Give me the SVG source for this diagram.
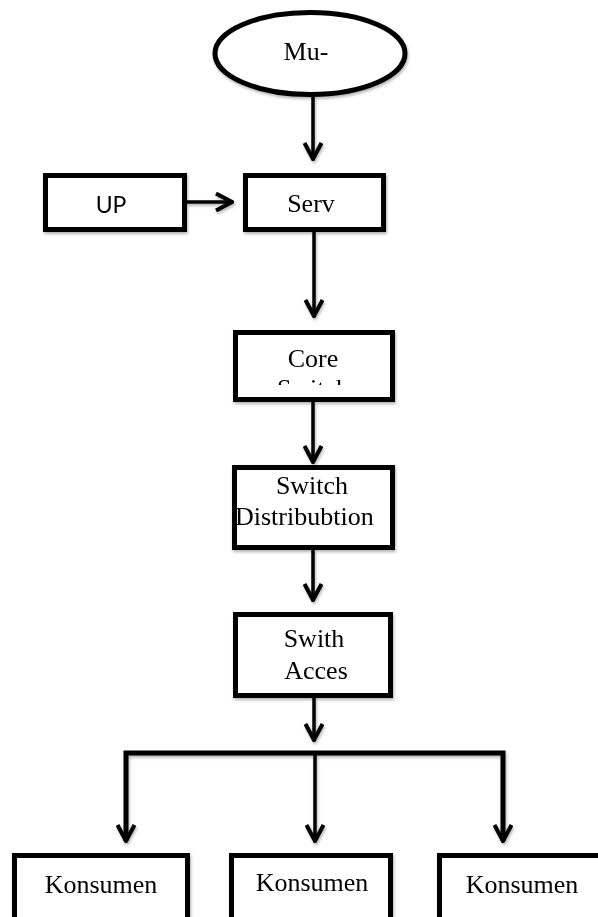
<svg xmlns="http://www.w3.org/2000/svg" width="598" height="917" viewBox="0 0 598 917">
<style>
.box{fill:#fff;stroke:#000;stroke-width:5}
.t{font-family:"Liberation Serif","Times New Roman",serif;font-size:26px;fill:#000}
.s{font-family:Lato,"Open Sans","Liberation Sans",sans-serif;font-size:23px;fill:#000}
.c{fill:none;stroke:#000;stroke-width:3.5}
.bar{fill:none;stroke:#000;stroke-width:5}
</style>
<defs>
<filter id="sh" x="-10%" y="-10%" width="130%" height="140%">
<feDropShadow dx="1" dy="2" stdDeviation="1.5" flood-color="#000" flood-opacity="0.3"/>
</filter>
<marker id="ah" viewBox="0 0 20 20" refX="18" refY="10" markerWidth="20" markerHeight="20" markerUnits="userSpaceOnUse" orient="auto">
<path d="M2,1.5 L18,10 L2,18.5" fill="none" stroke="#000" stroke-width="4"/>
</marker>
<clipPath id="coreclip"><rect x="238" y="335" width="152" height="50"/></clipPath>
</defs>
<rect width="598" height="917" fill="#fff"/>
<g id="connectors" filter="url(#sh)">
<line class="c" x1="313" y1="97" x2="313" y2="159" marker-end="url(#ah)"/>
<line class="c" x1="187" y1="202" x2="232" y2="202" marker-end="url(#ah)"/>
<line class="c" x1="314" y1="232" x2="314" y2="316" marker-end="url(#ah)"/>
<line class="c" x1="313" y1="402" x2="313" y2="462" marker-end="url(#ah)"/>
<line class="c" x1="313" y1="550" x2="313" y2="600" marker-end="url(#ah)"/>
<line class="c" x1="314" y1="698" x2="314" y2="740" marker-end="url(#ah)"/>
<polyline class="bar" points="126,841 126,753 503,753 503,841"/>
<line class="c" x1="126" y1="753" x2="126" y2="841" marker-end="url(#ah)"/>
<line class="c" x1="315" y1="753" x2="315" y2="841" marker-end="url(#ah)"/>
<line class="c" x1="503" y1="753" x2="503" y2="841" marker-end="url(#ah)"/>
</g>
<g id="mu" filter="url(#sh)">
<ellipse cx="310" cy="53.5" rx="95" ry="41" fill="#fff" stroke="#000" stroke-width="5"/>
<text class="t" x="306" y="60" text-anchor="middle">Mu-</text>
</g>
<g id="up" filter="url(#sh)">
<rect class="box" x="45.5" y="175.5" width="139" height="54"/>
<text class="s" x="111" y="213" text-anchor="middle">UP</text>
</g>
<g id="serv" filter="url(#sh)">
<rect class="box" x="245.5" y="175.5" width="138" height="54"/>
<text class="t" x="311" y="212" text-anchor="middle">Serv</text>
</g>
<g id="core" filter="url(#sh)">
<rect class="box" x="235.5" y="332.5" width="157" height="67"/>
<g clip-path="url(#coreclip)">
<text class="t" x="313" y="367" text-anchor="middle">Core</text>
<text class="t" x="313" y="397" text-anchor="middle">Switch</text>
</g>
</g>
<g id="distribution" filter="url(#sh)">
<rect class="box" x="234.5" y="467.5" width="158" height="80"/>
<text class="t" x="312" y="494" text-anchor="middle">Switch</text>
<text class="t" x="235" y="525">Distribubtion</text>
</g>
<g id="access" filter="url(#sh)">
<rect class="box" x="235.5" y="614.5" width="155" height="81"/>
<text class="t" x="314" y="647" text-anchor="middle">Swith</text>
<text class="t" x="316" y="679" text-anchor="middle">Acces</text>
</g>
<g id="konsumen1" filter="url(#sh)">
<rect class="box" x="14.5" y="855.5" width="173" height="80"/>
<text class="t" x="101" y="893" text-anchor="middle">Konsumen</text>
</g>
<g id="konsumen2" filter="url(#sh)">
<rect class="box" x="231.5" y="855.5" width="159" height="80"/>
<text class="t" x="312" y="891" text-anchor="middle">Konsumen</text>
</g>
<g id="konsumen3" filter="url(#sh)">
<rect class="box" x="439.5" y="855.5" width="200" height="80"/>
<text class="t" x="522" y="893" text-anchor="middle">Konsumen</text>
</g>
</svg>
